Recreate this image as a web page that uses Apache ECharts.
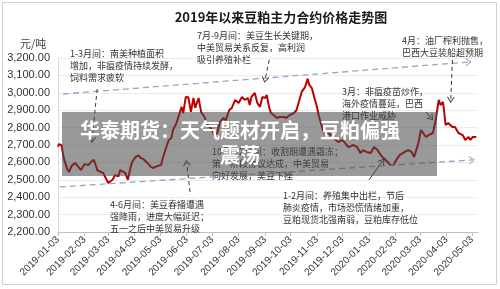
<!DOCTYPE html>
<html><head><meta charset="utf-8">
<script src="https://cdn.jsdelivr.net/npm/echarts@6/dist/echarts.min.js"></script>
<style>html,body{margin:0;padding:0;background:#fff}#c{width:500px;height:289px}</style>
</head><body><div id="c"></div>
<script>
const title = '2019年以来豆粕主力合约价格走势图';
const unitLabel = '元/吨';
const tickLabels = ['2019-01-03','2019-02-03','2019-03-03','2019-04-03','2019-05-03','2019-06-03','2019-07-03','2019-08-03','2019-09-03','2019-10-03','2019-11-03','2019-12-03','2020-01-03','2020-02-03','2020-03-03','2020-04-03','2020-05-03'];
const dates = ['2019-01-03','2019-01-04','2019-01-07','2019-01-10','2019-01-14','2019-01-16','2019-01-19','2019-01-23','2019-01-26','2019-01-30',
'2019-02-03','2019-02-08','2019-02-11','2019-02-14','2019-02-17','2019-02-18','2019-02-22','2019-02-25','2019-02-28',
'2019-03-03','2019-03-05','2019-03-08','2019-03-11','2019-03-15','2019-03-17','2019-03-19','2019-03-23','2019-03-25','2019-03-26','2019-03-29','2019-03-31',
'2019-04-04','2019-04-08','2019-04-10','2019-04-13','2019-04-15','2019-04-18','2019-04-22','2019-04-25','2019-04-30',
'2019-05-04','2019-05-06','2019-05-09','2019-05-11','2019-05-13','2019-05-16','2019-05-18','2019-05-22','2019-05-25','2019-05-28','2019-05-30',
'2019-06-02','2019-06-05','2019-06-08','2019-06-11','2019-06-13','2019-06-17','2019-06-20','2019-06-24','2019-06-26','2019-06-30',
'2019-07-03','2019-07-05','2019-07-09','2019-07-12','2019-07-16','2019-07-19','2019-07-23','2019-07-26','2019-07-30',
'2019-08-03','2019-08-07','2019-08-10','2019-08-14','2019-08-16','2019-08-18','2019-08-22','2019-08-25','2019-08-28','2019-08-31',
'2019-09-03','2019-09-05','2019-09-08','2019-09-10','2019-09-13','2019-09-17','2019-09-20','2019-09-25','2019-09-28',
'2019-10-02','2019-10-07','2019-10-10','2019-10-14','2019-10-16','2019-10-20','2019-10-23','2019-10-25','2019-10-28','2019-10-31',
'2019-11-03','2019-11-05','2019-11-10','2019-11-13','2019-11-17','2019-11-21','2019-11-25','2019-11-28',
'2019-12-03','2019-12-06','2019-12-10','2019-12-12','2019-12-16','2019-12-20','2019-12-24','2019-12-27','2019-12-31',
'2020-01-05','2020-01-09','2020-01-13','2020-01-17','2020-01-20','2020-01-25','2020-01-28','2020-02-01',
'2020-02-04','2020-02-08','2020-02-10','2020-02-14','2020-02-18','2020-02-22','2020-02-25','2020-03-01',
'2020-03-04','2020-03-06','2020-03-10','2020-03-13','2020-03-18','2020-03-21','2020-03-24','2020-03-25','2020-03-27','2020-03-30',
'2020-04-02','2020-04-05','2020-04-10','2020-04-13','2020-04-17','2020-04-22','2020-04-25','2020-04-29',
'2020-05-01','2020-05-04','2020-05-08'];
const prices = [2690,2705,2700,2620,2560,2545,2580,2597,2580,2556,
2590,2585,2605,2614,2575,2555,2545,2540,2510,
2482,2490,2500,2527,2520,2556,2556,2540,2550,2500,2568,2602,
2631,2640,2625,2620,2630,2597,2574,2568,2580,
2585,2625,2671,2680,2729,2740,2786,2826,2870,2920,2884,
2976,2975,2890,2970,2913,2970,2890,2861,2832,2803,
2786,2757,2769,2832,2855,2843,2901,2913,2959,
2941,2976,2959,2970,2930,2976,2999,2941,2918,2976,
2970,2987,2913,2884,2872,2855,2861,2861,2855,
2872,2884,2901,2970,3005,3033,3080,3045,3027,2970,
2918,2870,2786,2757,2769,2746,2729,2717,
2729,2711,2688,2683,2700,2688,2654,2671,2660,
2654,2688,2671,2642,2625,2602,2585,2585,
2614,2642,2631,2660,2671,2660,2631,2711,
2786,2775,2746,2757,2769,2832,2930,2959,2930,2947,
2815,2826,2803,2803,2769,2757,2729,2746,
2729,2746,2746];
// annotation arrows in data space: [startDate, startValue, endDate, endValue]
const trendArrows = [
  ['2019-01-09',2993,'2020-04-29',3177],
  ['2019-01-05',2459,'2020-05-03',2614]
];
const noteArrows = [
  ['2019-02-18',3022,'2019-02-12',2729,'dashed'],
  ['2019-09-08',3189,'2019-09-03',3074,'dashed'],
  ['2020-04-10',3189,'2020-04-08',2959,'dashed'],
  ['2020-03-10',2890,'2020-03-16',2855,'solid'],
  ['2019-06-07',2430,'2019-06-03',2597,'dashed'],
  ['2020-01-03',2499,'2020-01-19',2608,'solid']
];
const notes = [
  {x:70,y:48,lines:['1-3月间：南美种植面积','增加，非瘟疫情持续发酵，','饲料需求疲软']},
  {x:197,y:30,lines:['7月-9月间：美豆生长关键期，','中美贸易关系反复，高利润','吸引养殖补栏']},
  {x:402,y:35,lines:['4月：油厂榨利抛售，','巴西大豆装船超预期']},
  {x:342,y:86,lines:['3月：非瘟疫苗炒作，','海外疫情蔓延，巴西','港口作业威胁']},
  {x:212,y:146,lines:['10月-12月间：收割期遭遇霜冻；','第一阶段协议达成，中美贸易','向好发展，美豆下挫']},
  {x:110,y:199,lines:['4-6月间：美豆春播遭遇','强降雨，进度大幅延迟；','五一之后中美贸易升级']},
  {x:283,y:190,lines:['1-2月间：养殖集中出栏，节后','肺炎疫情，市场恐慌情绪加重，','豆粕现货北强南弱，豆粕库存低位']}
];
const bannerLines = ['华泰期货：天气题材开启，豆粕偏强','震荡'];

function ts(s){ return Date.UTC(+s.slice(0,4), +s.slice(5,7)-1, +s.slice(8,10)); }
function fmt(v){ const d=new Date(v); const p=n=>(n<10?'0':'')+n; return d.getUTCFullYear()+'-'+p(d.getUTCMonth()+1)+'-'+p(d.getUTCDate()); }
const seriesData = dates.map((d,i)=>[ts(d), prices[i]]);
const tickVals = tickLabels.map(ts);
const chevron = 'path://M0,10 L5,0 L10,10 L8.6,10 L5,2.8 L1.4,10 Z';

const markData = [];
trendArrows.forEach(a=>{
  markData.push([{coord:[ts(a[0]),a[1]], symbol:'none'},
    {coord:[ts(a[2]),a[3]], symbol:chevron, symbolSize:[9,6],
     lineStyle:{color:'#8fa8c6',type:[6,4],width:1.3}}]);
});
noteArrows.forEach(a=>{
  markData.push([{coord:[ts(a[0]),a[1]], symbol:'none'},
    {coord:[ts(a[2]),a[3]], symbol:chevron, symbolSize:[8,6],
     lineStyle:{color:'#3a3a3a',type:a[4]==='dashed'?[4,3]:'solid',width:1}}]);
});

const graphics = [
  {type:'rect', shape:{x:2.5,y:2.5,width:494,height:282}, style:{fill:'none',stroke:'#d0d0d0',lineWidth:1}, z:0},
  {type:'text', x:281, y:17, style:{text:title, font:'bold 13px "Noto Sans CJK SC"', fill:'#1a1a1a', align:'center', verticalAlign:'middle'}},
  {type:'text', x:20, y:44, style:{text:unitLabel, font:'11px "Noto Sans CJK SC"', fill:'#404040', verticalAlign:'middle'}}
];
notes.forEach(n=>{
  graphics.push({type:'text', x:n.x, y:n.y, z:5, style:{text:n.lines.join('\n'), font:'9px "Noto Sans CJK SC"', lineHeight:12, fill:'#333'}});
});
graphics.push({type:'rect', shape:{x:62,y:112,width:375,height:64}, style:{fill:'rgba(70,70,70,0.55)'}, z:50});
graphics.push({type:'text', x:240, y:143, z:51, style:{text:bannerLines.join('\n'), font:'bold 20px "Noto Sans CJK SC"', lineHeight:25, fill:'#fff', align:'center', verticalAlign:'middle'}});

const chart = echarts.init(document.getElementById('c'), null, {renderer:'canvas'});
chart.setOption({
  animation:false,
  backgroundColor:'#fff',
  grid:{left:58,right:22,top:58,bottom:57,containLabel:false},
  xAxis:{
    type:'value', min:ts('2019-01-03'), max:ts('2020-05-10'),
    axisLine:{lineStyle:{color:'#bfbfbf'}},
    axisTick:{show:true, customValues:tickVals, length:4, lineStyle:{color:'#bfbfbf'}},
    axisLabel:{customValues:tickVals, rotate:45, fontSize:10, color:'#333', fontFamily:'Liberation Sans', margin:6,
      formatter:v=>fmt(v)},
    splitLine:{show:false}
  },
  yAxis:{
    type:'value', min:2200, max:3200, interval:100,
    axisLine:{show:true, lineStyle:{color:'#d9d9d9'}},
    axisTick:{show:false},
    axisLabel:{fontSize:11, color:'#333', fontFamily:'Liberation Sans', margin:8,
      formatter:v=>v.toLocaleString('en-US',{minimumFractionDigits:2,maximumFractionDigits:2})},
    splitLine:{lineStyle:{color:'#ececec'}}
  },
  series:[{
    type:'line', data:seriesData, showSymbol:false, symbol:'none',
    lineStyle:{color:'#c00000', width:2}, z:3,
    markLine:{silent:true, animation:false, label:{show:false}, symbol:['none','none'], data:markData}
  }],
  graphic:graphics
});
</script></body></html>
